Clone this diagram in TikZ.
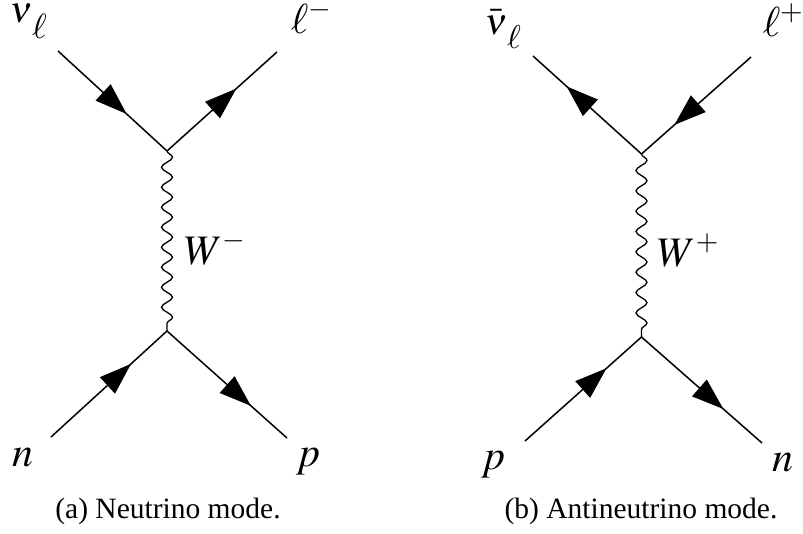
\documentclass[tikz,border=0pt]{standalone}
\usepackage{mathptmx}
\usepackage{fontspec}
\setmainfont{Liberation Serif}
\DeclareMathSizes{42}{42}{29}{21}
\usetikzlibrary{arrows.meta,decorations.markings,decorations.pathmorphing}
\tikzset{
  fermion/.style={decoration={markings, mark=at position #1 with {\arrow{Triangle[length=32pt,width=22pt]}}}, postaction={decorate}},
  boson/.style={line width=1.3pt, decorate, decoration={snake, segment length=#1, amplitude=5.5pt}},
  lab/.style={inner sep=0pt, anchor=base west, font=\fontsize{42}{42}\selectfont},
  capt/.style={inner sep=0pt, anchor=base, font=\fontsize{29.5}{33}\selectfont}
}
\begin{document}
\begin{tikzpicture}[x=1pt,y=-1pt,line width=1.5pt]
\useasboundingbox (0,0) rectangle (803,533);
% (a) neutrino mode
\coordinate (aV1) at (167,151);
\coordinate (aV2) at (167,331);
\coordinate (aNu) at (58,51);
\coordinate (aL) at (277,52);
\coordinate (aN) at (51,437);
\coordinate (aP) at (287,438);
\draw[fermion=0.63] (aNu) -- (aV1);
\draw[fermion=0.63] (aV1) -- (aL);
\draw[fermion=0.69] (aN) -- (aV2);
\draw[fermion=0.70] (aV2) -- (aP);
\draw[boson=20pt] (aV1) -- (aV2);
\node[lab] (aNuLab) at (9,22) {{\fontsize{37}{37}\selectfont$\nu$}\lower16pt\hbox{\fontsize{35}{35}\selectfont$\ell$}};
\node[lab] (aLLab) at (290,33) {$\ell^{-}$};
\node[lab] (aWLab) at (184,264) {$W^{-}$};
\node[lab] (aNLab) at (12,466) {$n$};
\node[lab] (aPLab) at (296,466) {$p$};
\node[capt] (aCap) at (168,518) {(a) Neutrino mode.};
% (b) antineutrino mode
\coordinate (bV1) at (641.5,154);
\coordinate (bV2) at (641.5,337);
\coordinate (bNu) at (533,56);
\coordinate (bL) at (751,57);
\coordinate (bP) at (525,441);
\coordinate (bN) at (762,443);
\draw[fermion=0.69] (bV1) -- (bNu);
\draw[fermion=0.70] (bL) -- (bV1);
\draw[fermion=0.70] (bP) -- (bV2);
\draw[fermion=0.68] (bV2) -- (bN);
\draw[boson=20.333pt] (bV1) -- (bV2);
\node[lab] (bNuLab) at (484,34) {{\fontsize{37}{37}\selectfont$\bar{\nu}$}\lower14pt\hbox{\fontsize{33}{33}\selectfont$\ell$}};
\node[lab] (bLLab) at (762,36) {$\ell^{+}$};
\node[lab] (bWLab) at (657,266) {$W^{+}$};
\node[lab] (bPLab) at (481,469) {$p$};
\node[lab] (bNLab) at (772,471) {$n$};
\node[capt] (bCap) at (641,518) {(b) Antineutrino mode.};
\end{tikzpicture}
\end{document}
